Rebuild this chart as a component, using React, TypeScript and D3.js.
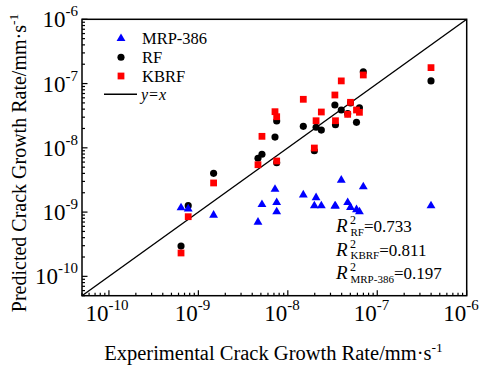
import React from "react";
import * as d3 from "d3";

// Experimental crack growth rate (mm/s) for each specimen
const experimental = [
  6.4e-10, 7.7e-10, 1.48e-9, 4.64e-9, 5.14e-9, 7.19e-9, 7.51e-9, 7.51e-9,
  1.49e-8, 1.98e-8, 2.07e-8, 2.37e-8, 3.36e-8, 3.41e-8, 3.96e-8, 4.67e-8,
  5.02e-8, 5.86e-8, 6.32e-8, 6.98e-8, 3.99e-7,
];
// Predicted crack growth rate (mm/s) by model
const rfPred = [
  2.96e-10, 1.26e-9, 4.01e-9, 6.87e-9, 7.93e-9, 1.47e-8, 2.61e-8, 5.86e-9,
  2.16e-8, 9.02e-9, 2.09e-8, 1.89e-8, 4.64e-8, 2.29e-8, 3.88e-8, 3.4e-8,
  5.0e-8, 2.49e-8, 4.21e-8, 1.53e-7, 1.1e-7,
];
const kbrfPred = [
  2.31e-10, 8.48e-10, 2.84e-9, 5.46e-9, 1.51e-8, 3.65e-8, 3.05e-8, 6.24e-9,
  5.69e-8, 9.93e-9, 2.64e-8, 3.61e-8, 6.64e-8, 2.64e-8, 1.1e-7, 3.32e-8,
  5.11e-8, 3.88e-8, 3.57e-8, 1.36e-7, 1.77e-7,
];
const mrpPred = [
  1.2e-9, 1.15e-9, 9.23e-10, 7.19e-10, 1.35e-9, 2.33e-9, 1.45e-9, 1.04e-9,
  1.91e-9, 1.29e-9, 1.73e-9, 1.29e-9, 1.28e-9, 1.28e-9, 3.24e-9, 1.45e-9,
  1.22e-9, 1.12e-9, 1.04e-9, 2.55e-9, 1.29e-9,
];

const axisDomain = [5e-11, 1e-6];
const decadeTicks = [1e-10, 1e-9, 1e-8, 1e-7, 1e-6];
const decadeExponents = ["-10", "-9", "-8", "-7", "-6"];

const legendNames = ["MRP-386", "RF", "KBRF"];
const r2Models = ["RF", "KBRF", "MRP-386"];
const r2Values = ["0.733", "0.811", "0.197"];

const FONT = "'Liberation Serif', 'Times New Roman', serif";
const BLUE = "#0000ff";
const RED = "#ff0000";
const BLACK = "#000000";

export default function App() {
  const left = 82;
  const right = 466.7;
  const top = 19.3;
  const bottom = 295.7;

  const x = d3.scaleLog().domain(axisDomain).range([left, right]);
  const y = d3.scaleLog().domain(axisDomain).range([bottom, top]);

  const allTicks = x.ticks();
  const isMajor = (v: number) =>
    Math.abs(Math.log10(v) - Math.round(Math.log10(v))) < 1e-6;

  const tri = d3.symbol(d3.symbolTriangle, 34)() as string;
  const circ = d3.symbol(d3.symbolCircle, 40)() as string;
  const sq = d3.symbol(d3.symbolSquare, 46)() as string;

  const idx = d3.range(experimental.length);

  const legendMarks = [tri, circ, sq];
  const legendColors = [BLUE, BLACK, RED];
  const legendRowY = [38.5, 57.3, 76];

  return (
    <svg
      width={484}
      height={370}
      style={{ position: "absolute", left: 0, top: 0, background: "#fff" }}
    >
      <rect x={0} y={0} width={484} height={370} fill="#fff" />

      {/* y = x reference line */}
      <line
        x1={x(axisDomain[0])}
        y1={y(axisDomain[0])}
        x2={x(axisDomain[1])}
        y2={y(axisDomain[1])}
        stroke={BLACK}
        strokeWidth={1.4}
      />

      {/* ticks on bottom and left, pointing inward */}
      {allTicks.map((v, i) => {
        const len = isMajor(v) ? 5.5 : 3;
        return (
          <g key={"t" + i}>
            <line x1={x(v)} x2={x(v)} y1={bottom} y2={bottom - len} stroke={BLACK} strokeWidth={1.2} />
            <line x1={left} x2={left + len} y1={y(v)} y2={y(v)} stroke={BLACK} strokeWidth={1.2} />
          </g>
        );
      })}

      {/* frame */}
      <rect
        x={left}
        y={top}
        width={right - left}
        height={bottom - top}
        fill="none"
        stroke={BLACK}
        strokeWidth={1.5}
      />

      {/* data points */}
      {idx.map((i) => (
        <path key={"rf" + i} d={circ} transform={`translate(${x(experimental[i])},${y(rfPred[i])})`} fill={BLACK} />
      ))}
      {idx.map((i) => (
        <path key={"kb" + i} d={sq} transform={`translate(${x(experimental[i])},${y(kbrfPred[i])})`} fill={RED} />
      ))}
      {idx.map((i) => (
        <path key={"mr" + i} d={tri} transform={`translate(${x(experimental[i])},${y(mrpPred[i]) + 0.8})`} fill={BLUE} />
      ))}

      <g fontFamily={FONT} fill={BLACK}>
        {/* x tick labels */}
        {decadeTicks.map((v, i) => (
          <g key={"xl" + i}>
            <text x={x(v) - 0.5} y={321} fontSize={23} textAnchor="end">10</text>
            <text x={x(v) - 0.5} y={310} fontSize={15} textAnchor="start">{decadeExponents[i]}</text>
          </g>
        ))}

        {/* y tick labels */}
        {decadeTicks.map((v, i) => (
          <text key={"yl" + i} x={78} y={y(v) + 8} fontSize={23} textAnchor="end">
            10
            <tspan fontSize={15} dy={-11}>{decadeExponents[i]}</tspan>
          </text>
        ))}

        {/* axis titles */}
        <text x={273.5} y={360} fontSize={20.5} textAnchor="middle">
          Experimental Crack Growth Rate/mm·s
          <tspan fontSize={13.5} dy={-8}>-1</tspan>
        </text>
        <text transform="translate(26,163) rotate(-90)" fontSize={20} textAnchor="middle">
          Predicted Crack Growth Rate/mm·s
          <tspan fontSize={13.5} dy={-8}>-1</tspan>
        </text>

        {/* legend */}
        {legendNames.map((name, i) => (
          <g key={"lg" + i}>
            <path d={legendMarks[i]} transform={`translate(121,${legendRowY[i]})`} fill={legendColors[i]} />
            <text x={142} y={legendRowY[i] + 5.8} fontSize={16.5}>{name}</text>
          </g>
        ))}
        <line x1={104} x2={137} y1={94.3} y2={94.3} stroke={BLACK} strokeWidth={1.4} />
        <text x={141} y={99.5} fontSize={16} fontStyle="italic">y=x</text>

        {/* goodness of fit */}
        {r2Models.map((m, i) => {
          const base = 232 + i * 23.5;
          return (
            <g key={"r2" + i} fontSize={17}>
              <text x={336} y={base} fontSize={19} fontStyle="italic">R</text>
              <text x={350} y={base - 8} fontSize={12}>2</text>
              <text x={350.5} y={base}>
                <tspan fontSize={11} dy={3.5}>{m}</tspan>
                <tspan dy={-3.5}>={r2Values[i]}</tspan>
              </text>
            </g>
          );
        })}
      </g>
    </svg>
  );
}
